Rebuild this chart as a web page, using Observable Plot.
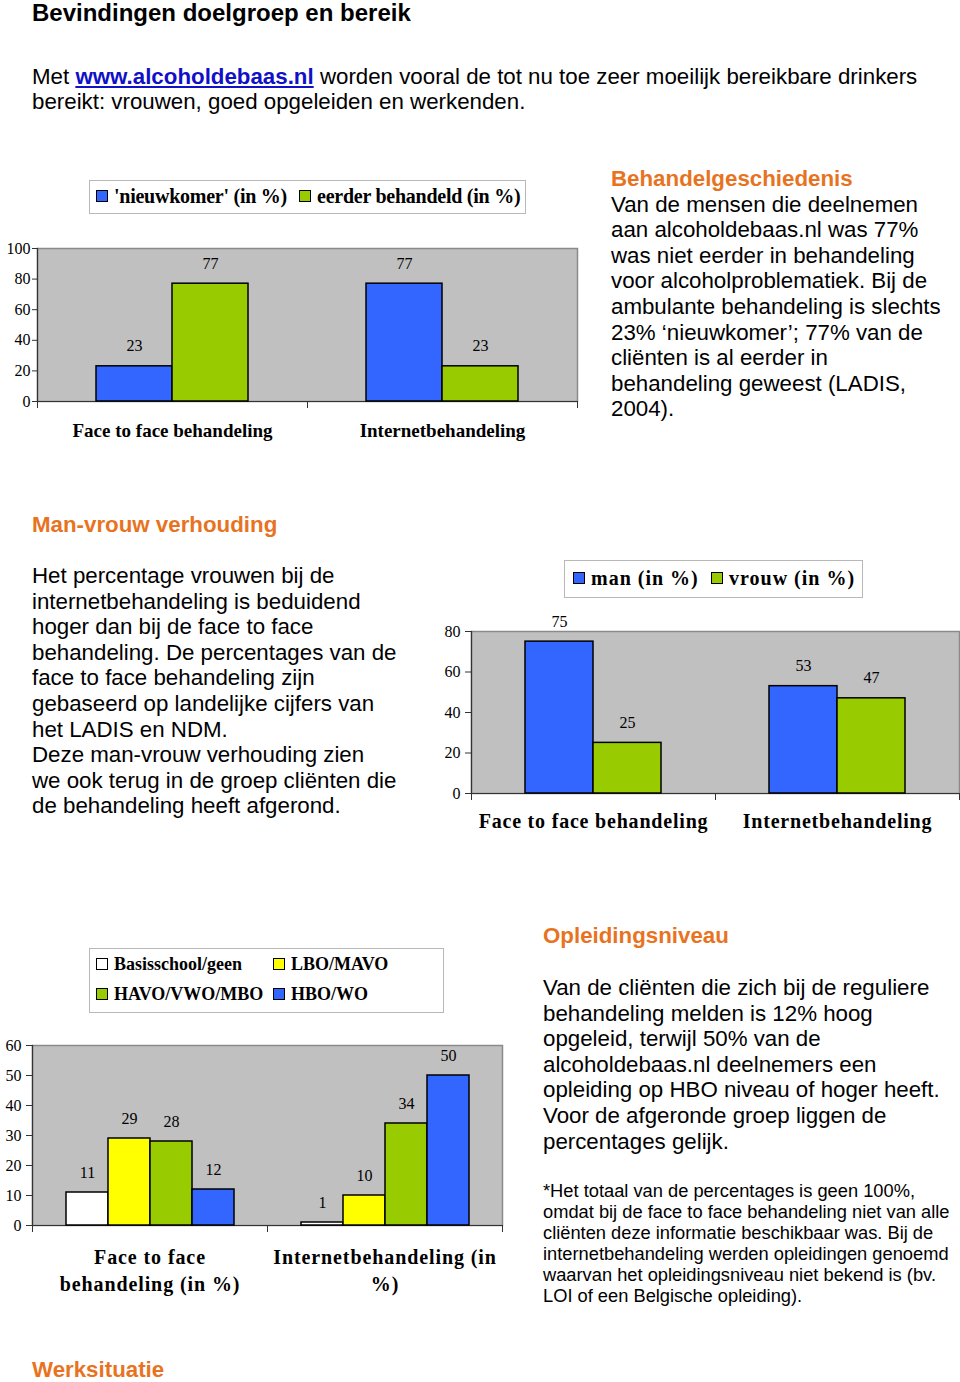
<!DOCTYPE html>
<html>
<head>
<meta charset="utf-8">
<script src="https://cdn.jsdelivr.net/npm/d3@7"></script>
<script src="https://cdn.jsdelivr.net/npm/@observablehq/plot@0.6"></script>
<style>
  html, body { margin: 0; padding: 0; background: #fff; }
  #page { position: relative; width: 960px; height: 1382px; overflow: hidden; font-family: "Liberation Sans", Arial, sans-serif; color: #000; }
  .abs { position: absolute; }
  .h1 { font-weight: bold; font-size: 24px; line-height: 26px; }
  .body { font-size: 22.3px; line-height: 25.6px; white-space: nowrap; }
  .head { color: #e8731f; font-weight: bold; font-size: 22.3px; }
  .foot { font-size: 18.3px; line-height: 21px; white-space: nowrap; }
  a { color: #1010c8; font-weight: bold; text-decoration: underline; }
  .legend { position: absolute; border: 1px solid #b8b8b8; background: #fff; font-family: "Liberation Serif", "Times New Roman", serif; font-weight: bold; color: #000; box-sizing: border-box; }
  .legend .item { position: absolute; white-space: nowrap; }
  .legend .sw { display: inline-block; width: 10px; height: 10px; border: 1px solid #000; vertical-align: middle; margin-right: 6px; position: relative; top: -2px; }
</style>
</head>
<body>
<div id="page">
  <div class="abs h1" style="left:32px; top:0px;">Bevindingen doelgroep en bereik</div>
  <div class="abs body" style="left:32px; top:64px; line-height:25px;">Met <a>www.alcoholdebaas.nl</a> worden vooral de tot nu toe zeer moeilijk bereikbare drinkers<br>bereikt: vrouwen, goed opgeleiden en werkenden.</div>

  <div class="abs body" style="left:611px; top:166px;"><span class="head">Behandelgeschiedenis</span><br>Van de mensen die deelnemen<br>aan alcoholdebaas.nl was 77%<br>was niet eerder in behandeling<br>voor alcoholproblematiek. Bij de<br>ambulante behandeling is slechts<br>23% ‘nieuwkomer’; 77% van de<br>cliënten is al eerder in<br>behandeling geweest (LADIS,<br>2004).</div>

  <div class="abs body" style="left:32px; top:512px;"><span class="head">Man-vrouw verhouding</span></div>
  <div class="abs body" style="left:32px; top:563px;">Het percentage vrouwen bij de<br>internetbehandeling is beduidend<br>hoger dan bij de face to face<br>behandeling. De percentages van de<br>face to face behandeling zijn<br>gebaseerd op landelijke cijfers van<br>het LADIS en NDM.<br>Deze man-vrouw verhouding zien<br>we ook terug in de groep cliënten die<br>de behandeling heeft afgerond.</div>

  <div class="abs body" style="left:543px; top:923px;"><span class="head">Opleidingsniveau</span></div>
  <div class="abs body" style="left:543px; top:975px;">Van de cliënten die zich bij de reguliere<br>behandeling melden is 12% hoog<br>opgeleid, terwijl 50% van de<br>alcoholdebaas.nl deelnemers een<br>opleiding op HBO niveau of hoger heeft.<br>Voor de afgeronde groep liggen de<br>percentages gelijk.</div>
  <div class="abs foot" style="left:543px; top:1180px;">*Het totaal van de percentages is geen 100%,<br>omdat bij de face to face behandeling niet van alle<br>cliënten deze informatie beschikbaar was. Bij de<br>internetbehandeling werden opleidingen genoemd<br>waarvan het opleidingsniveau niet bekend is (bv.<br>LOI of een Belgische opleiding).</div>

  <div class="abs body" style="left:32px; top:1357px;"><span class="head">Werksituatie</span></div>
</div>
<script>
// ---------- Data ----------
// Chart 1: Behandelgeschiedenis
const c1Categories = ["Face to face behandeling", "Internetbehandeling"];
const c1Series = ["'nieuwkomer' (in %)", "eerder behandeld (in %)"];
const c1Nieuwkomer = [23, 77];
const c1Eerder = [77, 23];
const c1Colors = ["#3366ff", "#99cc00"];
const c1Ticks = [0, 20, 40, 60, 80, 100];

// Chart 2: Man-vrouw verhouding
const c2Categories = ["Face to face behandeling", "Internetbehandeling"];
const c2Series = ["man (in %)", "vrouw (in %)"];
const c2Man = [75, 53];
const c2Vrouw = [25, 47];
const c2Colors = ["#3366ff", "#99cc00"];
const c2Ticks = [0, 20, 40, 60, 80];

// Chart 3: Opleidingsniveau
const c3Categories = ["Face to face\nbehandeling (in %)", "Internetbehandeling (in\n%)"];
const c3Series = ["Basisschool/geen", "LBO/MAVO", "HAVO/VWO/MBO", "HBO/WO"];
const c3Basisschool = [11, 1];
const c3LboMavo = [29, 10];
const c3HavoVwoMbo = [28, 34];
const c3HboWo = [12, 50];
const c3Colors = ["#ffffff", "#ffff00", "#99cc00", "#3366ff"];
const c3Ticks = [0, 10, 20, 30, 40, 50, 60];

// ---------- Helpers ----------
function tidy(categories, series, valuesBySeries) {
  return categories.flatMap((c, i) => series.map((s, j) => ({category: c, series: s, value: valuesBySeries[j][i]})));
}

function groupedBars(o) {
  const data = tidy(o.categories, o.series, o.values);
  const plotH = o.height - o.marginTop - o.marginBottom;
  const svg = Plot.plot({
    width: o.width,
    height: o.height,
    marginLeft: o.marginLeft,
    marginRight: o.marginRight,
    marginTop: o.marginTop,
    marginBottom: o.marginBottom,
    style: {fontFamily: "'Liberation Serif', 'Times New Roman', serif", fontSize: o.tickFontSize + "px", color: "#000", background: "transparent", overflow: "visible"},
    fx: {domain: o.categories, padding: 0, label: null},
    x: {domain: o.series, paddingInner: 0, paddingOuter: o.paddingOuter, axis: null},
    y: {domain: [0, o.yMax], axis: null},
    color: {domain: o.series, range: o.colors},
    marks: [
      Plot.frame({facet: "super", fill: "#c0c0c0", stroke: "#8a8a8a", strokeWidth: 1.5}),
      Plot.frame({facet: "super", anchor: "left", stroke: "#333", strokeWidth: 1.2}),
      // small category-boundary ticks below the baseline
      Plot.frame({anchor: "left", insetTop: plotH, insetBottom: -6, stroke: "#333"}),
      Plot.frame({anchor: "right", insetTop: plotH, insetBottom: -6, stroke: "#333"}),
      Plot.ruleY([0], {stroke: "#333", strokeWidth: 1.2}),
      Plot.barY(data, {fx: "category", x: "series", y: "value", fill: "series", stroke: "#000", strokeWidth: 1.5}),
      Plot.text(data, {fx: "category", x: "series", y: "value", text: d => String(d.value), dy: -20, fontSize: o.labelFontSize, fill: "#000"}),
      Plot.axisY({ticks: o.yTicks, tickSize: o.tickSize, tickPadding: o.tickPadding, tickFormat: d => String(d), fontSize: o.tickFontSize, stroke: "#333", label: null}),
      Plot.axisFx({anchor: "bottom", tickSize: 0, tickPadding: o.fxPadding, fontSize: o.fxFontSize, fontWeight: "bold", lineHeight: o.lineHeight || 1, label: null})
    ]
  });
  if (o.fxLetterSpacing) {
    svg.querySelectorAll('[aria-label="fx-axis tick label"]').forEach(g => { g.style.letterSpacing = o.fxLetterSpacing + "px"; });
  }
  return svg;
}

function legend(o) {
  const div = document.createElement("div");
  div.className = "legend";
  Object.assign(div.style, {left: o.left + "px", top: o.top + "px", width: o.width + "px", height: o.height + "px", fontSize: o.fontSize + "px", letterSpacing: (o.letterSpacing || 0) + "px"});
  o.series.forEach((s, i) => {
    const it = document.createElement("div");
    it.className = "item";
    it.style.left = o.positions[i][0] + "px";
    it.style.top = o.positions[i][1] + "px";
    const sw = document.createElement("span");
    sw.className = "sw";
    sw.style.background = o.colors[i];
    it.appendChild(sw);
    it.appendChild(document.createTextNode(s));
    div.appendChild(it);
  });
  return div;
}

function place(el, left, top) {
  const w = document.createElement("div");
  w.style.position = "absolute";
  w.style.left = left + "px";
  w.style.top = top + "px";
  w.appendChild(el);
  document.getElementById("page").appendChild(w);
}

// ---------- Chart 1 ----------
place(groupedBars({
  categories: c1Categories, series: c1Series, values: [c1Nieuwkomer, c1Eerder], colors: c1Colors,
  yMax: 100, yTicks: c1Ticks,
  width: 590, height: 221, marginLeft: 36, marginRight: 13, marginTop: 18, marginBottom: 50,
  paddingOuter: 0.757, tickSize: 5, tickPadding: 2, tickFontSize: 16, labelFontSize: 16,
  fxPadding: 22, fxFontSize: 19
}), 0, 230);
document.getElementById("page").appendChild(legend({
  left: 89, top: 180, width: 437, height: 34, fontSize: 20, letterSpacing: -0.25,
  series: c1Series, colors: c1Colors, positions: [[6, 4], [209, 4]]
}));

// ---------- Chart 2 ----------
place(groupedBars({
  categories: c2Categories, series: c2Series, values: [c2Man, c2Vrouw], colors: c2Colors,
  yMax: 80, yTicks: c2Ticks,
  width: 540, height: 243, marginLeft: 50, marginRight: 1, marginTop: 31, marginBottom: 50,
  paddingOuter: 0.772, tickSize: 6, tickPadding: 5, tickFontSize: 16, labelFontSize: 16,
  fxPadding: 20, fxFontSize: 20, fxLetterSpacing: 0.8
}), 420, 600);
document.getElementById("page").appendChild(legend({
  left: 564, top: 560, width: 299, height: 38, fontSize: 20, letterSpacing: 1,
  series: c2Series, colors: c2Colors, positions: [[8, 6], [146, 6]]
}));

// ---------- Chart 3 ----------
place(groupedBars({
  categories: c3Categories, series: c3Series, values: [c3Basisschool, c3LboMavo, c3HavoVwoMbo, c3HboWo], colors: c3Colors,
  yMax: 60, yTicks: c3Ticks,
  width: 510, height: 285, marginLeft: 32, marginRight: 8, marginTop: 25, marginBottom: 80,
  paddingOuter: 0.733, tickSize: 6, tickPadding: 5, tickFontSize: 16, labelFontSize: 16,
  fxPadding: 19, fxFontSize: 20, lineHeight: 1.35, fxLetterSpacing: 0.9
}), 0, 1020);
document.getElementById("page").appendChild(legend({
  left: 89, top: 948, width: 355, height: 65, fontSize: 18, letterSpacing: 0,
  series: c3Series, colors: c3Colors, positions: [[6, 5], [183, 5], [6, 35], [183, 35]]
}));
</script>
</body>
</html>
